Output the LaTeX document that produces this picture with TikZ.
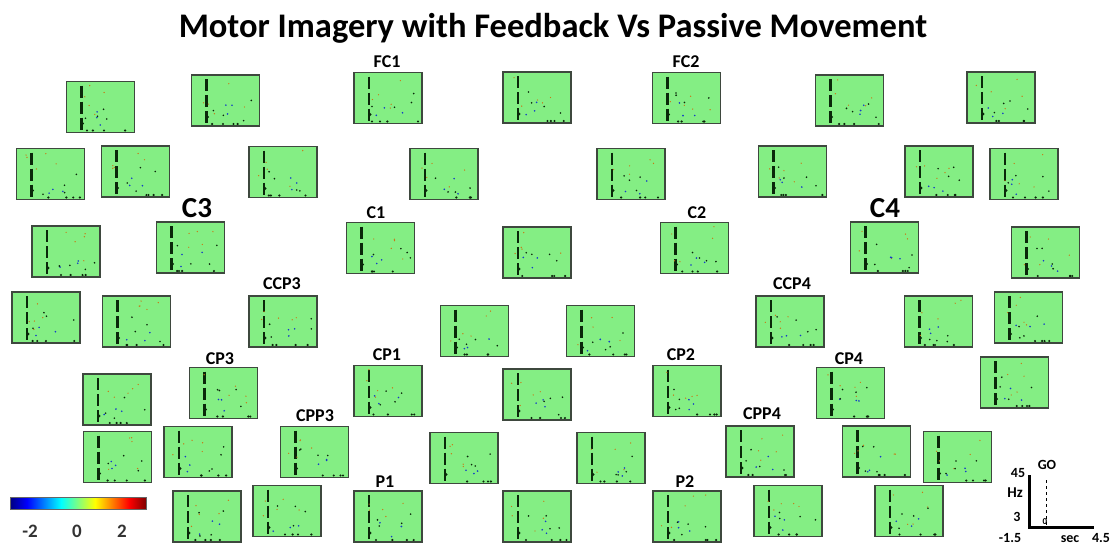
\documentclass[tikz,border=0pt]{standalone}
\usepackage{fontspec}
\setmainfont{Carlito}
\usetikzlibrary{calc}
\definecolor{mapgreen}{RGB}{132,238,132}
\definecolor{mapedge}{RGB}{62,72,62}
\definecolor{jdb}{RGB}{0,0,128}
\definecolor{jdr}{RGB}{128,0,0}
\definecolor{speckor}{RGB}{200,120,20}
\definecolor{speckbl}{RGB}{20,60,200}
\definecolor{speckdk}{RGB}{10,40,10}
\pgfdeclarehorizontalshading{jet}{100bp}{color(0bp)=(jdb); color(25bp)=(jdb); color(31.25bp)=(blue); color(43.75bp)=(cyan); color(56.25bp)=(yellow); color(68.75bp)=(red); color(75bp)=(jdr); color(100bp)=(jdr)}
\tikzset{
  tfmap/.style={rectangle, minimum width=68pt, minimum height=51pt, inner sep=0pt,
    fill=mapgreen, draw=mapedge, line width=1.3pt,
    path picture={
      \coordinate (nw) at (path picture bounding box.north west);
      \draw[speckdk, line width=2.6pt, dash pattern=on 12pt off 4pt]
        ([xshift=15pt,yshift=-4pt]nw) -- ([xshift=15pt,yshift=-51pt]nw);
      \foreach \k in {1,...,5}{
        \pgfmathsetmacro\sx{8+50*rnd}
        \pgfmathsetmacro\sy{4+36*rnd}
        \fill[speckor] ([xshift=\sx pt,yshift=-\sy pt]nw) circle (0.7pt);
      }
      \foreach \k in {1,...,3}{
        \pgfmathsetmacro\sx{20+30*rnd}
        \pgfmathsetmacro\sy{30+16*rnd}
        \fill[speckbl] ([xshift=\sx pt,yshift=-\sy pt]nw) circle (0.9pt);
      }
      \foreach \k in {1,...,4}{
        \pgfmathsetmacro\sx{18+46*rnd}
        \pgfmathsetmacro\sy{20+26*rnd}
        \fill[speckdk] ([xshift=\sx pt,yshift=-\sy pt]nw) circle (0.9pt);
      }
      \foreach \k in {1,...,4}{
        \pgfmathsetmacro\sx{18+46*rnd}
        \fill[speckdk] ([xshift=\sx pt,yshift=-49pt]nw) circle (1.2pt);
      }
      \fill[speckdk] ([xshift=16pt,yshift=-42pt]nw) circle (1.6pt);
    }},
  elab/.style={font=\fontsize{18}{20}\selectfont\bfseries, inner sep=0pt},
  biglab/.style={font=\fontsize{29}{31}\selectfont\bfseries, inner sep=0pt},
  leglab/.style={font=\fontsize{14}{16}\selectfont\bfseries, inner sep=0pt},
  barlab/.style={font=\fontsize{19}{21}\selectfont\bfseries, text=black!80, inner sep=0pt},
}
\begin{document}
\begin{tikzpicture}[x=1pt,y=-1pt]
\pgfmathsetseed{4242}
\useasboundingbox (0,0) rectangle (1114,544);
\node[font=\fontsize{34.5}{38}\selectfont\bfseries, inner sep=0pt] (title) at (553,28) {Motor Imagery with Feedback Vs Passive Movement};
% row 1
\node[tfmap] (m1) at (100.5,107) {};
\node[tfmap] (m2) at (225.5,100.5) {};
\node[tfmap] (fc1) at (388,98) {};
\node[tfmap] (m4) at (537,97.5) {};
\node[tfmap] (fc2) at (686.5,98) {};
\node[tfmap] (m6) at (849.5,100.5) {};
\node[tfmap] (m7) at (1001,97.5) {};
% row 2
\node[tfmap] (m8) at (50.5,174) {};
\node[tfmap] (m9) at (135.5,171.5) {};
\node[tfmap] (m10) at (283,172) {};
\node[tfmap] (m11) at (444,174) {};
\node[tfmap] (m12) at (631,174) {};
\node[tfmap] (m13) at (792.5,171.5) {};
\node[tfmap] (m14) at (939,171.5) {};
\node[tfmap] (m15) at (1024,174) {};
% row 3
\node[tfmap] (m16) at (66,251.5) {};
\node[tfmap] (c3) at (190.5,247.5) {};
\node[tfmap] (c1) at (380.5,248) {};
\node[tfmap] (m19) at (537,252.5) {};
\node[tfmap] (c2) at (694.5,248) {};
\node[tfmap] (c4) at (884.5,247.5) {};
\node[tfmap] (m22) at (1045.5,252.5) {};
% row 4
\node[tfmap] (m23) at (46,317.5) {};
\node[tfmap] (m24) at (136.5,321.5) {};
\node[tfmap] (ccp3) at (283,321.5) {};
\node[tfmap] (m26) at (474.5,331) {};
\node[tfmap] (m27) at (600.5,331) {};
\node[tfmap] (ccp4) at (790,321.5) {};
\node[tfmap] (m29) at (938.5,321.5) {};
\node[tfmap] (m30) at (1028.5,317.5) {};
% row 5
\node[tfmap] (m31) at (117,399.5) {};
\node[tfmap] (cp3) at (223.5,393) {};
\node[tfmap] (cp1) at (388,391) {};
\node[tfmap] (m34) at (537,394.5) {};
\node[tfmap] (cp2) at (687,391) {};
\node[tfmap] (cp4) at (850.5,393) {};
\node[tfmap] (m37) at (1014.5,382.5) {};
% row 6
\node[tfmap] (m38) at (117.5,457) {};
\node[tfmap] (m39) at (198,452) {};
\node[tfmap] (cpp3) at (314.5,452) {};
\node[tfmap] (m41) at (464,458) {};
\node[tfmap] (m42) at (611,458) {};
\node[tfmap] (cpp4) at (760,451.5) {};
\node[tfmap] (m44) at (876.5,451.5) {};
\node[tfmap] (m45) at (957.5,457) {};
% row 7
\node[tfmap] (m46) at (207,516.5) {};
\node[tfmap] (m47) at (287,511) {};
\node[tfmap] (p1) at (388,516.5) {};
\node[tfmap] (m49) at (537,516.5) {};
\node[tfmap] (p2) at (687,516.5) {};
\node[tfmap] (m51) at (788,511) {};
\node[tfmap] (m52) at (909,511) {};
% electrode labels
\node[elab] (lfc1) at (387,62) {FC1};
\node[elab] (lfc2) at (686,62) {FC2};
\node[elab] (lc1) at (376,213) {C1};
\node[elab] (lc2) at (697,213) {C2};
\node[biglab] (lc3) at (197,208) {C3};
\node[biglab] (lc4) at (885,208) {C4};
\node[elab] (lccp3) at (282,284) {CCP3};
\node[elab] (lccp4) at (792,284) {CCP4};
\node[elab] (lcp3) at (220,359) {CP3};
\node[elab] (lcp1) at (387,355) {CP1};
\node[elab] (lcp2) at (681,355) {CP2};
\node[elab] (lcp4) at (849,359) {CP4};
\node[elab] (lcpp3) at (315,416) {CPP3};
\node[elab] (lcpp4) at (762,414) {CPP4};
\node[elab] (lp1) at (385,482) {P1};
\node[elab] (lp2) at (685,482) {P2};
% colour bar
\node[rectangle, minimum width=136pt, minimum height=12pt, inner sep=0pt, shading=jet, draw=black!60, line width=0.4pt] (cbar) at (78,503) {};
\node[barlab] (bm2) at (30,531) {-2};
\node[barlab] (b0) at (77,531) {0};
\node[barlab] (bp2) at (122,531) {2};
% axes legend
\coordinate (ytop) at (1029,475);
\coordinate (orig) at (1029,527);
\coordinate (xend) at (1094,527);
\coordinate (gotop) at (1046,480);
\coordinate (gobot) at (1046,527);
\draw[dashed, line width=0.9pt] (gotop) -- (gobot);
\draw[line width=3pt] (ytop) -- (orig) -- (xend);
\node[leglab] (l45) at (1018,473) {45};
\node[leglab] (lgo) at (1047,465) {GO};
\node[leglab, font=\fontsize{15}{17}\selectfont\bfseries] (lhz) at (1015,493) {Hz};
\node[leglab] (l3) at (1017,517) {3};
\node[leglab] (lm15) at (1010,538) {-1.5};
\node[leglab, font=\fontsize{9}{10}\selectfont\bfseries] (l0) at (1045,522) {0};
\node[leglab] (lsec) at (1070,539) {sec};
\node[leglab] (l45b) at (1101,538) {4.5};
\end{tikzpicture}
\end{document}
